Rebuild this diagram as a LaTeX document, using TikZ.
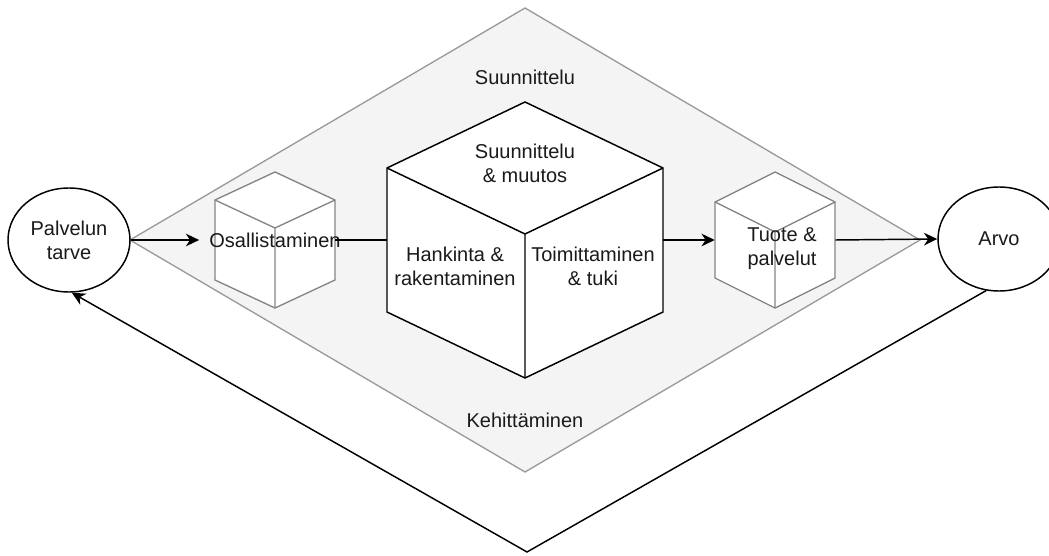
\documentclass[tikz,border=0pt]{standalone}
\usepackage{fontspec}
\setmainfont{Liberation Sans}
\usetikzlibrary{shapes.geometric,arrows.meta,calc}

\definecolor{inktext}{HTML}{1A1A1A}
\definecolor{framegray}{HTML}{9A9A9A}
\definecolor{cubegray}{HTML}{858585}
\definecolor{areafill}{HTML}{F4F4F4}

\tikzset{
  lbl/.style={font=\fontsize{15}{18}\selectfont, text=inktext, align=center, inner sep=0pt},
  endpoint/.style={ellipse, draw=black, line width=1.1pt, fill=white,
    minimum width=91.5pt, minimum height=78pt, inner sep=0pt,
    font=\fontsize{15}{18}\selectfont, text=inktext, align=center},
  anchorbox/.style={rectangle, inner sep=0pt, draw=none},
  flow/.style={line width=1.1pt, draw=black},
  flowarrow/.style={flow, -{Stealth[length=10pt, width=9.5pt, inset=3.2pt]}},
  pics/isocube/.style n args={3}{code={
    % outline of an isometric cube: half width #1, side-corner height #2, roof rise #3
    \path[pic actions] (0,-#2-#3) -- (#1,-#2) -- (#1,#2) -- (0,#2+#3)
      -- (-#1,#2) -- (-#1,-#2) -- cycle;
    \path[pic actions, fill=none] (-#1,-#2) -- (0,-#2+#3) -- (#1,-#2)
      (0,-#2+#3) -- (0,#2+#3);
  }}
}

\begin{document}
\begin{tikzpicture}[x=0.75pt, y=-0.75pt]
\useasboundingbox (0,0) rectangle (1049,556);
\fill[white] (0,0) rectangle (1049,556);

% process area
\coordinate (areaN) at (525,8);
\coordinate (areaE) at (920,240);
\coordinate (areaS) at (525,472);
\coordinate (areaW) at (130,240);
\filldraw[fill=areafill, draw=framegray, line width=1pt]
  (areaN) -- (areaE) -- (areaS) -- (areaW) -- cycle;
\node[lbl] (plan) at (525,77) {Suunnittelu};
\node[lbl] (devel) at (525,420) {Kehittäminen};

% end points
\node[endpoint] (need) at (69,240) {Palvelun\\tarve};
\node[endpoint] (value) at (999,239) {Arvo};

% cubes
\pic[draw=cubegray, fill=white, line width=1pt] at (275,240) {isocube={60}{40}{28}};
\node[anchorbox, minimum width=90pt, minimum height=102pt] (osa) at (275,240) {};
\node[lbl, inner sep=7.5pt] (osalabel) at (275,240) {Osallistaminen};

\pic[draw=black, fill=white, line width=1.1pt] at (525,240) {isocube={138}{72}{66}};
\node[anchorbox, minimum width=207pt, minimum height=207pt] (core) at (525,240) {};
\node[lbl] (coretop) at (525,163) {Suunnittelu\\\& muutos};
\node[lbl] (coreleft) at (455,266) {Hankinta \&\\rakentaminen};
\node[lbl] (coreright) at (593,266) {Toimittaminen\\\& tuki};

\pic[draw=cubegray, fill=white, line width=1pt] at (775,240) {isocube={60}{38}{30}};
\node[anchorbox, minimum width=90pt, minimum height=102pt] (prod) at (775,240) {};
\node[lbl] (prodlabel) at (782,249) {Tuote \&\\palvelut};

% flow
\draw[flowarrow] (need.east) -- (osalabel.west);
\draw[flow] (osa.east) -- (core.west);
\draw[flowarrow] (core.east) -- (prod.west);
\draw[flowarrow] (prod.east) -- (value.west);

% feedback loop
\coordinate (loopbottom) at (527,552);
\draw[flowarrow] (value.-104) -- (loopbottom) -- (need.-87);
\end{tikzpicture}
\end{document}
